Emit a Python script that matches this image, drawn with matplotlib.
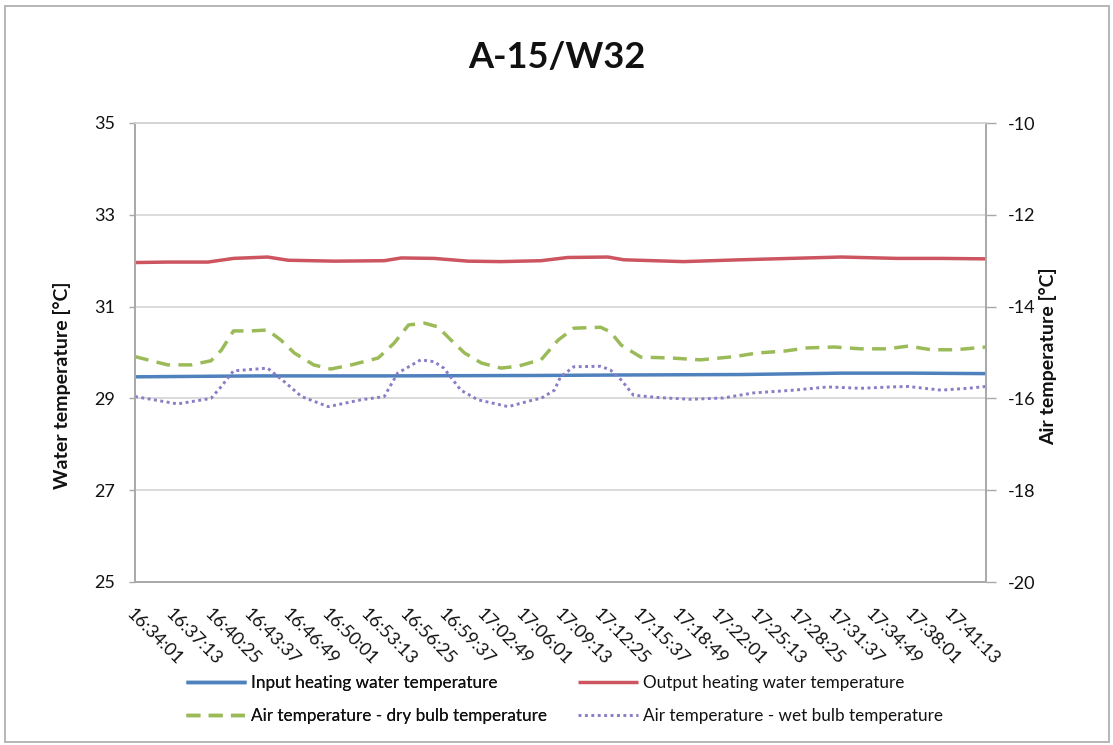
import matplotlib
matplotlib.use("Agg")
import matplotlib.pyplot as plt
from matplotlib.patches import Rectangle

plt.rcParams['font.family'] = ['Lato', 'DejaVu Sans']
plt.rcParams['axes.unicode_minus'] = False

# ---- data ---------------------------------------------------------------
start_time = "16:34:01"
tick_labels = ["16:34:01", "16:37:13", "16:40:25", "16:43:37", "16:46:49",
               "16:50:01", "16:53:13", "16:56:25", "16:59:37", "17:02:49",
               "17:06:01", "17:09:13", "17:12:25", "17:15:37", "17:18:49",
               "17:22:01", "17:25:13", "17:28:25", "17:31:37", "17:34:49",
               "17:38:01", "17:41:13"]
end_minutes = 70.0

# input heating water temperature [°C] (left axis)
input_min = [0, 10.0, 20.5, 33.4, 40.0, 49.8, 58.1, 64.0, 70.0]
input_temp = [29.47, 29.49, 29.49, 29.50, 29.51, 29.52, 29.55, 29.55, 29.54]

# output heating water temperature [°C] (left axis)
output_min = [0, 2.7, 6.0, 8.1, 10.9, 12.6, 16.4, 20.5, 21.9, 24.6, 27.4,
              30.1, 33.4, 35.6, 38.9, 40.2, 45.1, 49.8, 55.3, 58.1, 62.7,
              66.3, 70.0]
output_temp = [31.96, 31.97, 31.97, 32.05, 32.08, 32.01, 31.99, 32.00, 32.06,
               32.05, 31.99, 31.98, 32.00, 32.07, 32.08, 32.02, 31.98, 32.02,
               32.06, 32.08, 32.05, 32.05, 32.04]

# air temperature, dry bulb [°C] (right axis)
dry_min = [0, 2.7, 4.6, 6.25, 7.1, 8.1, 9.5, 10.9, 12.0, 13.1, 14.7, 16.1,
           17.8, 20.0, 21.3, 22.5, 23.8, 24.9, 26.0, 27.1, 28.5, 30.1, 31.5,
           32.8, 33.4, 34.8, 36.1, 38.3, 39.1, 40.0, 41.6, 44.1, 46.5, 49.3,
           51.2, 53.4, 55.3, 57.5, 59.7, 61.9, 63.6, 65.5, 67.5, 70.0]
dry_temp = [-15.09, -15.27, -15.27, -15.18, -14.95, -14.53, -14.53, -14.51,
            -14.73, -15.01, -15.27, -15.36, -15.27, -15.12, -14.80, -14.40,
            -14.36, -14.44, -14.73, -15.01, -15.23, -15.34, -15.30, -15.20,
            -15.16, -14.73, -14.47, -14.45, -14.55, -14.84, -15.10, -15.12,
            -15.16, -15.09, -15.01, -14.97, -14.90, -14.88, -14.92, -14.92,
            -14.86, -14.94, -14.94, -14.88]

# air temperature, wet bulb [°C] (right axis)
wet_min = [0, 3.5, 6.25, 7.1, 8.1, 10.9, 12.3, 13.7, 15.9, 18.6, 20.5, 21.6,
           23.5, 24.6, 25.4, 26.8, 28.2, 30.7, 32.8, 33.4, 34.5, 35.0, 36.1,
           38.3, 39.1, 40.0, 41.0, 43.0, 45.7, 48.4, 50.9, 54.2, 57.0, 59.7,
           62.2, 63.6, 66.3, 68.5, 70.0]
wet_temp = [-15.96, -16.12, -16.00, -15.74, -15.40, -15.34, -15.64, -15.96,
            -16.18, -16.03, -15.96, -15.45, -15.16, -15.20, -15.34, -15.82,
            -16.03, -16.18, -16.03, -16.00, -15.82, -15.53, -15.31, -15.30,
            -15.38, -15.60, -15.93, -15.98, -16.02, -15.99, -15.88, -15.82,
            -15.75, -15.78, -15.75, -15.74, -15.82, -15.78, -15.74]

water_ticks = [25, 27, 29, 31, 33, 35]
air_ticks = [-20, -18, -16, -14, -12, -10]

# ---- colours ------------------------------------------------------------
c_input = '#4f81bd'
c_output = '#cc5560'
c_dry = '#9bbb59'
c_wet = '#8a7cc6'
c_grid = '#d4d4d4'
c_axis = '#a8a8a8'
c_text = '#111111'


def to_minutes(hms):
    h, m, s = (int(v) for v in hms.split(':'))
    h0, m0, s0 = (int(v) for v in start_time.split(':'))
    return ((h * 3600 + m * 60 + s) - (h0 * 3600 + m0 * 60 + s0)) / 60.0


W, H = 1113, 745
fig = plt.figure(figsize=(W / 100, H / 100), dpi=100)
fig.patch.set_facecolor('white')


def fx(px):
    return px / W


def fy(py):
    return 1 - py / H


ax = fig.add_axes([fx(135), fy(582), fx(986) - fx(135), fy(123) - fy(582)])
ax2 = ax.twinx()

# lines
l_in, = ax.plot(input_min, input_temp, color=c_input, lw=2.5,
                solid_capstyle='butt', label='Input heating water temperature')
l_out, = ax.plot(output_min, output_temp, color=c_output, lw=2.5,
                 solid_capstyle='butt', label='Output heating water temperature')
l_dry, = ax2.plot(dry_min, dry_temp, color=c_dry, lw=2.5,
                  dashes=(4.0, 2.4), dash_capstyle='butt',
                  label='Air temperature - dry bulb temperature')
l_wet, = ax2.plot(wet_min, wet_temp, color=c_wet, lw=2.1,
                  dashes=(1.0, 1.2), dash_capstyle='butt',
                  label='Air temperature - wet bulb temperature')

# axes ranges and ticks
ax.set_xlim(0, end_minutes)
ax.set_ylim(25, 35)
ax2.set_ylim(-20, -10)
ax.set_yticks(water_ticks)
ax2.set_yticks(air_ticks)
ax.set_xticks([to_minutes(t) for t in tick_labels])
ax.set_xticklabels(tick_labels, rotation=-45, ha='left', va='top',
                   rotation_mode='anchor')

ax.grid(axis='y', color=c_grid, lw=1.2)
ax.set_axisbelow(True)

for a in (ax, ax2):
    for side in ('left', 'right', 'bottom'):
        a.spines[side].set_color(c_axis)
        a.spines[side].set_linewidth(1.2)
    a.spines['top'].set_color(c_grid)
    a.spines['top'].set_linewidth(1.2)

ax.tick_params(axis='x', length=0, pad=17, labelsize=13, labelcolor=c_text)
ax.tick_params(axis='y', length=4, width=1.0, color=c_axis, pad=10,
               labelsize=13, labelcolor=c_text)
ax2.tick_params(axis='y', length=7, width=1.0, color=c_axis, pad=9,
                labelsize=13, labelcolor=c_text)

# title and axis titles
fig.text(fx(557), fy(57), 'A-15/W32', ha='center', va='center',
         fontsize=26, fontweight='bold', color=c_text)
fig.text(fx(62), fy(385), 'Water temperature [°C]', ha='center', va='center',
         rotation=90, fontsize=14, fontweight='bold', color=c_text)
fig.text(fx(1048), fy(356), 'Air temperature [°C]', ha='center', va='center',
         rotation=90, fontsize=14, fontweight='bold', color=c_text)

# legend: two columns anchored separately
leg_kw = dict(loc='upper left', frameon=False, fontsize=12.3,
              handlelength=3.5, handletextpad=0.3, labelspacing=1.0,
              borderpad=0, borderaxespad=0, labelcolor=c_text)
leg1 = fig.legend([l_in, l_dry], [l_in.get_label(), l_dry.get_label()],
                  bbox_to_anchor=(fx(186), fy(675)), **leg_kw)
fig.add_artist(leg1)
fig.legend([l_out, l_wet], [l_out.get_label(), l_wet.get_label()],
           bbox_to_anchor=(fx(578), fy(675)), **leg_kw)

# chart frame
fig.add_artist(Rectangle((fx(5), fy(742)), fx(1109) - fx(5), fy(6) - fy(742),
                         transform=fig.transFigure, fill=False,
                         ec='#b0b0b0', lw=1.3))

fig.savefig('out.png', dpi=100)
